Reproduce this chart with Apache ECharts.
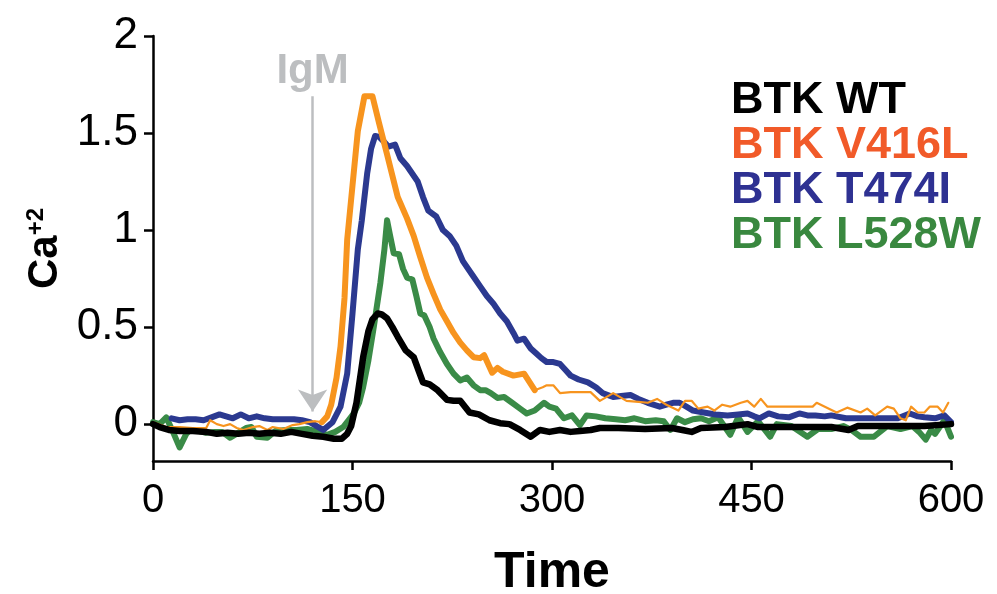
<!DOCTYPE html>
<html>
<head>
<meta charset="utf-8">
<script src="https://cdn.jsdelivr.net/npm/echarts@6/dist/echarts.min.js"></script>
<style>
  html, body { margin: 0; padding: 0; background: #fff; }
  #chart { width: 997px; height: 594px; }
</style>
</head>
<body>
<div id="chart"></div>
<script>
// [time, Ca+2] pairs
const wt = [
  [0, 0], [5, -0.015], [12, -0.03], [20, -0.035], [30, -0.035], [40, -0.04], [48, -0.05], [56, -0.045],
  [64, -0.05], [72, -0.045], [80, -0.05], [88, -0.045], [96, -0.05], [104, -0.04], [112, -0.05],
  [120, -0.06], [128, -0.065], [136, -0.075], [142, -0.075], [146, -0.05], [149, -0.01], [153, 0.11],
  [158, 0.345], [162, 0.48], [165, 0.54], [169, 0.57], [172, 0.565], [176, 0.545], [180, 0.5],
  [184, 0.45], [190, 0.38], [196, 0.345], [200, 0.27], [203, 0.215], [208, 0.205], [214, 0.175],
  [221, 0.125], [226, 0.12], [231, 0.12], [238, 0.06], [245, 0.05], [253, 0.02], [261, 0.005],
  [268, 0], [276, -0.03], [284, -0.065], [291, -0.03], [298, -0.04], [306, -0.03], [314, -0.04],
  [321, -0.035], [329, -0.03], [336, -0.02], [350, -0.02], [370, -0.025], [390, -0.02], [398, -0.03],
  [405, -0.04], [412, -0.02], [430, -0.015], [447, 0], [455, -0.015], [470, -0.015], [490, -0.015],
  [510, -0.015], [523, -0.03], [530, -0.01], [560, -0.01], [580, -0.01], [600, 0]
]
const v416l = [
  [0, 0.01], [4, 0], [10, -0.015], [20, -0.015], [30, -0.02], [40, -0.02], [43, 0.02], [48, 0],
  [53, -0.01], [58, 0], [63, -0.02], [68, -0.03], [75, -0.015], [80, -0.01], [86, -0.03], [90, -0.015],
  [98, -0.025], [105, -0.005], [110, 0], [116, 0.01], [122, 0.015], [127, 0.01], [131, 0.04],
  [134, 0.1], [138, 0.24], [141, 0.4], [144, 0.65], [146, 0.95], [150, 1.23], [154, 1.51], [159, 1.69],
  [165, 1.69], [170, 1.55], [176, 1.39], [180, 1.28], [184, 1.17], [191, 1.06], [196, 0.97],
  [201, 0.86], [206, 0.755], [211, 0.67], [216, 0.59], [221, 0.53], [226, 0.47], [231, 0.42],
  [236, 0.38], [241, 0.345], [246, 0.34], [249, 0.355], [255, 0.265], [259, 0.29], [263, 0.27],
  [271, 0.25], [279, 0.26], [287, 0.175], [293, 0.19], [296, 0.2], [301, 0.2], [306, 0.16],
  [314, 0.165], [322, 0.165], [329, 0.165], [336, 0.12], [346, 0.16], [356, 0.12], [365, 0.115],
  [372, 0.11], [379, 0.13], [386, 0.1], [395, 0.07], [400, 0.12], [405, 0.12], [410, 0.08],
  [417, 0.09], [422, 0.07], [428, 0.1], [434, 0.09], [442, 0.11], [447, 0.12], [452, 0.09],
  [457, 0.13], [462, 0.09], [475, 0.09], [490, 0.09], [496, 0.09], [499, 0.11], [514, 0.06],
  [522, 0.085], [532, 0.06], [537, 0.08], [543, 0.045], [552, 0.09], [557, 0.08], [562, 0.03],
  [566, 0.02], [570, 0.09], [575, 0.06], [580, 0.06], [584, 0.09], [590, 0.09], [594, 0.06], [598, 0.11]
]
const t474i = [
  [14, 0.03], [20, 0.02], [26, 0.025], [32, 0.025], [38, 0.02], [44, 0.035], [50, 0.05], [55, 0.04],
  [60, 0.03], [66, 0.05], [72, 0.03], [78, 0.04], [84, 0.03], [90, 0.025], [98, 0.025], [106, 0.025],
  [112, 0.02], [118, 0.01], [123, -0.01], [128, -0.03], [135, 0.01], [141, 0.09], [146, 0.26],
  [150, 0.57], [154, 0.9], [157, 1.05], [161, 1.29], [164, 1.42], [167, 1.485], [170, 1.48],
  [173, 1.46], [177, 1.43], [182, 1.44], [186, 1.37], [191, 1.33], [195, 1.29], [199, 1.25],
  [203, 1.17], [207, 1.1], [213, 1.07], [218, 1.0], [223, 0.97], [228, 0.92], [233, 0.84], [240, 0.77],
  [246, 0.71], [251, 0.66], [256, 0.62], [261, 0.57], [266, 0.53], [271, 0.47], [274, 0.43],
  [279, 0.44], [284, 0.39], [288, 0.365], [292, 0.34], [296, 0.32], [301, 0.32], [306, 0.31],
  [310, 0.28], [314, 0.25], [320, 0.23], [327, 0.215], [333, 0.19], [338, 0.16], [346, 0.14],
  [352, 0.145], [359, 0.15], [365, 0.13], [372, 0.11], [381, 0.09], [386, 0.1], [391, 0.11],
  [396, 0.11], [401, 0.09], [406, 0.07], [414, 0.06], [423, 0.05], [432, 0.045], [440, 0.05],
  [447, 0.055], [452, 0.04], [456, 0.03], [463, 0.055], [470, 0.04], [478, 0.035], [486, 0.055],
  [492, 0.045], [498, 0.045], [505, 0.04], [510, 0.045], [521, 0.03], [530, 0.03], [540, 0.03],
  [550, 0.03], [560, 0.03], [569, 0.055], [575, 0.04], [580, 0.035], [588, 0.03], [595, 0.045], [600, 0.01]
]
const l528w = [
  [0, 0.01], [5, 0], [10, 0.035], [15, -0.04], [20, -0.12], [25, -0.05], [28, -0.03], [34, -0.035],
  [40, -0.045], [46, -0.04], [52, -0.04], [58, -0.07], [64, -0.045], [70, -0.02], [74, -0.015],
  [78, -0.065], [86, -0.07], [92, -0.035], [100, -0.03], [108, -0.03], [116, -0.025], [124, -0.04],
  [131, -0.055], [137, -0.04], [143, -0.015], [147, 0.02], [151, 0.055], [155, 0.11], [158, 0.19],
  [162, 0.33], [166, 0.5], [171, 0.73], [174, 0.9], [176, 1.05], [178, 0.98], [181, 0.88], [185, 0.875],
  [188, 0.8], [191, 0.755], [195, 0.745], [198, 0.66], [201, 0.57], [204, 0.56], [208, 0.5], [211, 0.44],
  [216, 0.37], [221, 0.31], [226, 0.26], [231, 0.225], [236, 0.24], [241, 0.2], [246, 0.175],
  [250, 0.175], [254, 0.16], [259, 0.135], [264, 0.14], [270, 0.11], [276, 0.08], [281, 0.055],
  [287, 0.07], [294, 0.11], [298, 0.09], [303, 0.08], [309, 0.03], [315, 0.045], [321, -0.005],
  [326, 0.045], [333, 0.04], [340, 0.03], [348, 0.025], [355, 0.02], [362, 0.03], [370, 0.015],
  [378, 0.02], [384, 0.015], [389, -0.03], [394, 0.03], [400, 0.01], [406, 0.025], [412, 0.03],
  [418, 0.015], [425, 0.035], [434, -0.055], [440, 0.035], [447, -0.04], [455, 0.015], [464, -0.065],
  [469, 0], [480, -0.01], [492, -0.065], [500, -0.025], [510, -0.025], [519, -0.01], [525, -0.03],
  [532, -0.065], [542, -0.065], [552, -0.01], [562, -0.025], [571, -0.01], [576, -0.04], [581, -0.08],
  [585, -0.03], [588, -0.05], [595, 0.02], [600, -0.065]
]
const names = ['BTK WT', 'BTK V416L', 'BTK T474I', 'BTK L528W']
const xTicks = [0, 150, 300, 450, 600]
const yTicks = [0, 0.5, 1, 1.5, 2]
const igmTime = 120

// V416L is drawn heavy only through the response, thin before and after
const v416lThick = v416l.filter(p => p[0] >= 127 && p[0] <= 287)

const boldFont = '"Liberation Sans", Arial, sans-serif'

const chart = echarts.init(document.getElementById('chart'))

const lineSeries = (name, data, color, width, z) => ({
  name: name,
  type: 'line',
  data: data,
  showSymbol: false,
  symbol: 'none',
  z: z,
  lineStyle: { color: color, width: width, join: 'round', cap: 'round' },
  itemStyle: { color: color }
})

const green = lineSeries(names[3], l528w, '#3a8b47', 6, 2)
green.markLine = {
  silent: true,
  symbol: ['none', 'arrow'],
  symbolSize: 22,
  lineStyle: { color: '#bcbec0', width: 2.5, type: 'solid' },
  label: {
    show: true,
    position: 'start',
    formatter: 'IgM',
    color: '#bcbec0',
    fontSize: 42,
    fontWeight: 'bold',
    fontFamily: boldFont,
    distance: 4
  },
  data: [[{ coord: [igmTime, 1.69] }, { coord: [igmTime, 0.065] }]]
}

const option = {
  animation: false,
  backgroundColor: '#fff',
  grid: { left: 153, right: 46, top: 36, bottom: 133, containLabel: false, outerBoundsMode: 'none' },
  legend: {
    orient: 'vertical',
    left: 721,
    top: 73,
    icon: 'none',
    itemWidth: 0,
    itemHeight: 0,
    itemGap: 0,
    selectedMode: false,
    textStyle: { fontSize: 45, fontWeight: 'bold', fontFamily: boldFont, lineHeight: 42 },
    data: [
      { name: names[0], textStyle: { color: '#000000' } },
      { name: names[1], textStyle: { color: '#f15a29' } },
      { name: names[2], textStyle: { color: '#2e3192' } },
      { name: names[3], textStyle: { color: '#39883f' } }
    ]
  },
  xAxis: {
    type: 'value',
    min: 0,
    max: 600,
    interval: 150,
    name: 'Time',
    nameLocation: 'middle',
    nameGap: 87,
    nameTextStyle: { fontSize: 50, fontWeight: 'bold', color: '#000', fontFamily: boldFont },
    axisLine: { onZero: false, lineStyle: { color: '#000', width: 2.5 } },
    axisTick: { length: 9, lineStyle: { color: '#000', width: 2.5 }, customValues: xTicks },
    axisLabel: { customValues: xTicks, fontSize: 40, color: '#000', fontFamily: boldFont, margin: 20 },
    splitLine: { show: false }
  },
  yAxis: {
    type: 'value',
    min: -0.19,
    max: 2,
    name: '{a|Ca}{b|+2}',
    nameLocation: 'middle',
    nameGap: 84,
    nameTextStyle: {
      rich: {
        a: { fontSize: 42, fontWeight: 'bold', color: '#000', fontFamily: boldFont },
        b: { fontSize: 24, fontWeight: 'bold', color: '#000', fontFamily: boldFont, verticalAlign: 'top' }
      }
    },
    axisLine: { show: true, lineStyle: { color: '#000', width: 2.5 } },
    axisTick: { show: true, length: 9, lineStyle: { color: '#000', width: 2.5 }, customValues: yTicks },
    axisLabel: { customValues: yTicks, fontSize: 44, color: '#000', fontFamily: boldFont, margin: 15 },
    splitLine: { show: false }
  },
  series: [
    green,
    lineSeries(names[2], t474i, '#2b3990', 6, 3),
    lineSeries(names[1], v416l, '#f7941e', 2.2, 4),
    lineSeries(names[1], v416lThick, '#f7941e', 6, 4),
    lineSeries(names[0], wt, '#000000', 6.5, 5)
  ]
}

chart.setOption(option)
</script>
</body>
</html>
